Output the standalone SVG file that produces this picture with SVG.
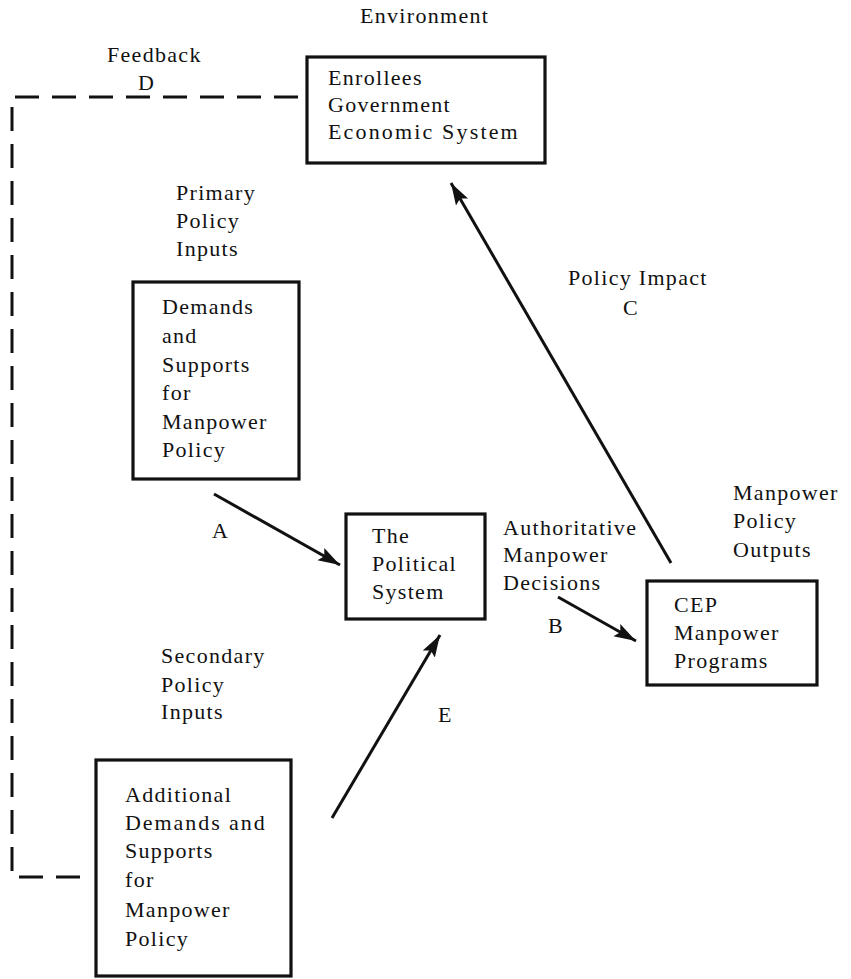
<svg xmlns="http://www.w3.org/2000/svg" width="851" height="979" viewBox="0 0 851 979">
<style>
text{font-family:"Liberation Serif","Times New Roman",serif;font-size:22px;letter-spacing:1.3px;fill:#111}
.box{fill:none;stroke:#111;stroke-width:3.2}
.arr{stroke:#111;stroke-width:3;fill:none}
.dash{stroke:#111;stroke-width:3;fill:none;stroke-dasharray:24 13}
</style>
<defs>
<marker id="ah" markerUnits="userSpaceOnUse" markerWidth="24" markerHeight="16" refX="22" refY="7" orient="auto">
<path d="M0,0 L22,7 L0,14 L4,7 Z" fill="#111"/>
</marker>
</defs>
<g id="labels">
<text x="360" y="23">Environment</text>
<text x="107" y="62">Feedback</text>
<text x="138" y="90">D</text>
<text x="176" y="200">Primary</text>
<text x="176" y="228">Policy</text>
<text x="176" y="256">Inputs</text>
<text x="568" y="285">Policy Impact</text>
<text x="623" y="315">C</text>
<text x="212" y="538">A</text>
<text x="503" y="535">Authoritative</text>
<text x="503" y="562">Manpower</text>
<text x="503" y="590">Decisions</text>
<text x="548" y="633">B</text>
<text x="733" y="500">Manpower</text>
<text x="733" y="528">Policy</text>
<text x="733" y="557">Outputs</text>
<text x="161" y="663">Secondary</text>
<text x="161" y="692">Policy</text>
<text x="161" y="719">Inputs</text>
<text x="438" y="722">E</text>
</g>
<g id="environment">
<rect class="box" x="307" y="57" width="238" height="106"/>
<text x="328" y="85">Enrollees</text>
<text x="328" y="112">Government</text>
<text x="328" y="139" textLength="191" lengthAdjust="spacing">Economic System</text>
</g>
<g id="primary">
<rect class="box" x="133" y="282" width="166" height="197"/>
<text x="162" y="314">Demands</text>
<text x="162" y="343">and</text>
<text x="162" y="372">Supports</text>
<text x="162" y="400">for</text>
<text x="162" y="429">Manpower</text>
<text x="162" y="457">Policy</text>
</g>
<g id="political">
<rect class="box" x="346" y="514" width="139" height="105"/>
<text x="372" y="543">The</text>
<text x="372" y="571">Political</text>
<text x="372" y="599">System</text>
</g>
<g id="cep">
<rect class="box" x="647" y="581" width="170" height="104"/>
<text x="674" y="612">CEP</text>
<text x="674" y="640">Manpower</text>
<text x="674" y="668">Programs</text>
</g>
<g id="secondary">
<rect class="box" x="96" y="760" width="195" height="216"/>
<text x="125" y="802">Additional</text>
<text x="125" y="830" textLength="141" lengthAdjust="spacing">Demands and</text>
<text x="125" y="858">Supports</text>
<text x="125" y="887">for</text>
<text x="125" y="917">Manpower</text>
<text x="125" y="946">Policy</text>
</g>
<g id="connectors">
<path class="dash" d="M298,97 H12 V877 H83"/>
<line class="arr" x1="214" y1="494" x2="340" y2="565" marker-end="url(#ah)"/>
<line class="arr" x1="558" y1="597" x2="636" y2="641" marker-end="url(#ah)"/>
<line class="arr" x1="671" y1="563" x2="451" y2="183" marker-end="url(#ah)"/>
<line class="arr" x1="332" y1="818" x2="440" y2="635" marker-end="url(#ah)"/>
</g>
</svg>
